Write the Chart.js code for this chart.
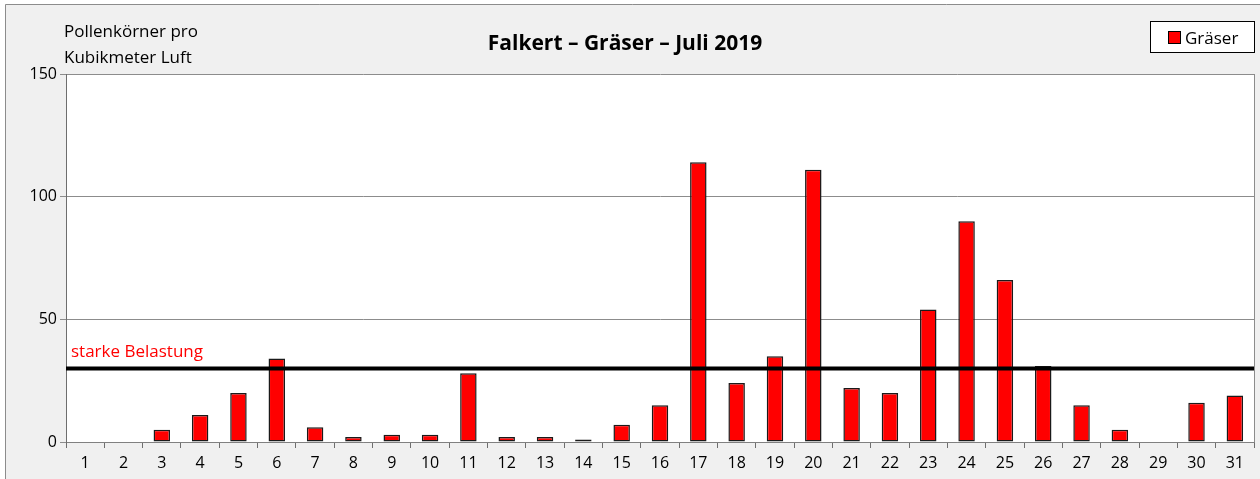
<!DOCTYPE html>
<html><head><meta charset="utf-8">
<script src="https://cdn.jsdelivr.net/npm/chart.js@4/dist/chart.umd.min.js"></script>
<style>html,body{margin:0;padding:0;background:#fff;}#wrap{width:1260px;height:479px;}</style>
</head><body><div id="wrap"><canvas id="c" width="1260" height="479"></canvas></div>
<script>
const days = ['1','2','3','4','5','6','7','8','9','10','11','12','13','14','15','16','17','18','19','20','21','22','23','24','25','26','27','28','29','30','31'];
const graeser = [0,0,5,11,20,34,6,2,3,3,28,2,2,1,7,15,114,24,35,111,22,20,54,90,66,31,15,5,0,16,19];
const yTicks = [0,50,100,150];
const threshold = 30;
const thresholdLabel = 'starke Belastung';
const titleText = 'Falkert – Gräser – Juli 2019';
const yTitle = ['Pollenkörner pro','Kubikmeter Luft'];
const seriesName = 'Gräser';

const FONT = '"Open Sans", "Noto Sans", sans-serif';

const deco = {
  id:'deco',
  beforeDraw(chart){
    const ctx = chart.ctx, a = chart.chartArea;
    ctx.save();
    ctx.fillStyle='#fff'; ctx.fillRect(0,0,chart.width,chart.height);
    ctx.fillStyle='#f0f0f0'; ctx.fillRect(5,4,chart.width-5,chart.height-4);
    ctx.strokeStyle='#8c8c8c'; ctx.lineWidth=1;
    ctx.beginPath(); ctx.moveTo(5.5,chart.height); ctx.lineTo(5.5,4.5); ctx.lineTo(chart.width,4.5); ctx.stroke();
    ctx.fillStyle='#fff'; ctx.fillRect(a.left,a.top,a.right-a.left,a.bottom-a.top);
    ctx.restore();
  },
  afterDatasetsDraw(chart){
    const ctx = chart.ctx, a = chart.chartArea, y = chart.scales.y;
    ctx.save();
    ctx.strokeStyle='#8c8c8c'; ctx.lineWidth=1;
    ctx.beginPath(); ctx.moveTo(a.right+0.5,a.top); ctx.lineTo(a.right+0.5,a.bottom); ctx.stroke();
    const ty = y.getPixelForValue(threshold);
    ctx.strokeStyle='#000'; ctx.lineWidth=4;
    ctx.beginPath(); ctx.moveTo(a.left,ty); ctx.lineTo(a.right,ty); ctx.stroke();
    ctx.fillStyle='#ff0000'; ctx.font='17px '+FONT; ctx.textBaseline='alphabetic'; ctx.textAlign='left';
    ctx.fillText(thresholdLabel, a.left+5, ty-11);
    ctx.fillStyle='#000'; ctx.font='bold 21px '+FONT; ctx.textAlign='center';
    ctx.fillText(titleText, 625, 50);
    ctx.font='17px '+FONT; ctx.textAlign='left';
    ctx.fillText(yTitle[0], 64, 37);
    ctx.fillText(yTitle[1], 64, 63);
    ctx.fillStyle='#fff'; ctx.fillRect(1150,21,104,31);
    ctx.strokeStyle='#000'; ctx.lineWidth=1; ctx.strokeRect(1150.5,21.5,104,31);
    ctx.fillStyle='#ff0000'; ctx.fillRect(1168,31,13,13);
    ctx.strokeRect(1168.5,31.5,12,12);
    ctx.fillStyle='#000'; ctx.font='17px '+FONT; ctx.textAlign='left';
    ctx.fillText(seriesName, 1185, 44);
    ctx.restore();
  }
};

new Chart(document.getElementById('c'), {
  type:'bar',
  data:{labels:days, datasets:[{label:seriesName, data:graeser, backgroundColor:'#ff0000', borderColor:'#1a1a1a', borderWidth:1.5, borderSkipped:false, barPercentage:0.43, categoryPercentage:1.0}]},
  options:{
    responsive:false, animation:false, devicePixelRatio:1,
    layout:{padding:{top:74,right:6,left:0,bottom:0}},
    plugins:{legend:{display:false}, title:{display:false}, tooltip:{enabled:false}},
    scales:{
      x:{
        offset:true,
        grid:{display:true, offset:true, drawOnChartArea:false, drawTicks:true, tickLength:6, color:'#6e6e6e'},
        border:{display:true, color:'#808080'},
        ticks:{color:'#000', font:{family:FONT, size:16}, padding:6, maxRotation:0, autoSkip:false},
        afterFit(s){ s.height = 37; }
      },
      y:{
        min:0, max:150,
        afterBuildTicks(s){ s.ticks = yTicks.map(v=>({value:v})); },
        grid:{color:'#8c8c8c', drawTicks:true, tickLength:6},
        border:{display:true, color:'#6e6e6e'},
        ticks:{color:'#000', font:{family:FONT, size:16}, padding:3},
        afterFit(s){ s.width = 66; }
      }
    }
  },
  plugins:[deco]
});
</script></body></html>
